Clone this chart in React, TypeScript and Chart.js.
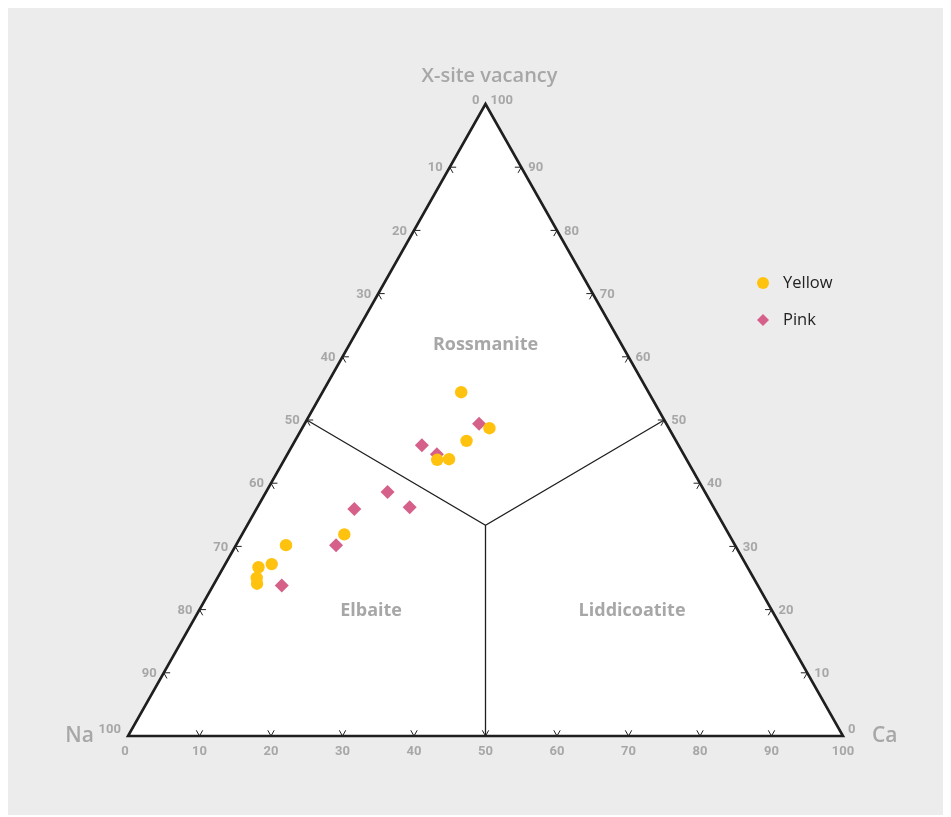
import { useEffect, useRef } from "react";
import { Chart, registerables } from "chart.js";

Chart.register(...registerables);

// ---- Data (ternary compositions, in %) ----
const yellowVacancy = [54.4, 48.7, 46.7, 43.8, 43.7, 31.9, 30.2, 27.2, 26.7, 25.0, 24.1];
const yellowNa = [26.2, 25.1, 29.3, 33.2, 34.9, 53.8, 62.8, 66.3, 68.4, 69.5, 69.9];
const yellowCa = [19.4, 26.2, 24.0, 23.0, 21.4, 14.3, 7.0, 6.5, 4.9, 5.5, 6.0];

const pinkVacancy = [49.4, 46.0, 44.6, 38.6, 35.9, 36.2, 30.2, 23.8];
const pinkNa = [26.2, 35.9, 34.5, 44.4, 50.4, 42.5, 55.8, 66.6];
const pinkCa = [24.4, 18.1, 20.9, 17.0, 13.7, 21.3, 14.0, 9.6];

const seriesNames = ["Yellow", "Pink"];
const tickValues = [0, 10, 20, 30, 40, 50, 60, 70, 80, 90, 100];
const topTitle = "X-site vacancy";
const leftTitle = "Na";
const rightTitle = "Ca";
const regionNames = ["Rossmanite", "Elbaite", "Liddicoatite"];

// convert (vacancy, Ca) to cartesian data coords on a 0..100 square
const toXY = (v: number, ca: number) => ({ x: ca + v / 2, y: v });

const LABEL_GREY = "#a7a7a7";
const LINE = "#1f1f1f";
const TICK_FONT = 'bold 13px Roboto, "DejaVu Sans", sans-serif';

const ternaryPlugin = {
  id: "ternaryFrame",
  beforeDatasetsDraw(chart: any) {
    const { ctx, scales } = chart;
    const xs = scales.x;
    const ys = scales.y;
    const P = (x: number, y: number) => [xs.getPixelForValue(x), ys.getPixelForValue(y)];
    const T = (v: number, ca: number) => {
      const p = toXY(v, ca);
      return P(p.x, p.y);
    };
    ctx.save();
    // triangle
    const A = T(100, 0); // apex (vacancy)
    const L = T(0, 0); // Na corner
    const R = T(0, 100); // Ca corner
    ctx.beginPath();
    ctx.moveTo(A[0], A[1]);
    ctx.lineTo(R[0], R[1]);
    ctx.lineTo(L[0], L[1]);
    ctx.closePath();
    ctx.fillStyle = "#ffffff";
    ctx.fill();

    // region boundaries
    const C = T(100 / 3, 100 / 3);
    const Lm = T(50, 0);
    const Rm = T(50, 50);
    const Bm = T(0, 50);
    ctx.strokeStyle = LINE;
    ctx.lineWidth = 1.3;
    ctx.beginPath();
    ctx.moveTo(Lm[0], Lm[1]);
    ctx.lineTo(C[0], C[1]);
    ctx.lineTo(Rm[0], Rm[1]);
    ctx.moveTo(C[0], C[1]);
    ctx.lineTo(Bm[0], Bm[1]);
    ctx.stroke();

    // ticks
    const d = 0.9;
    ctx.lineWidth = 1;
    ctx.beginPath();
    for (const t of tickValues) {
      if (t === 0 || t === 100) continue;
      let p0 = T(0, t);
      let a = T(d, t);
      let b = T(d, t - d);
      ctx.moveTo(a[0], a[1]); ctx.lineTo(p0[0], p0[1]); ctx.lineTo(b[0], b[1]);
      p0 = T(t, 0);
      a = T(t, d);
      b = T(t - d, d);
      ctx.moveTo(a[0], a[1]); ctx.lineTo(p0[0], p0[1]); ctx.lineTo(b[0], b[1]);
      p0 = T(t, 100 - t);
      a = T(t, 100 - t - d);
      b = T(t - d, 100 - t);
      ctx.moveTo(a[0], a[1]); ctx.lineTo(p0[0], p0[1]); ctx.lineTo(b[0], b[1]);
    }
    ctx.stroke();

    // outline
    ctx.lineWidth = 2.6;
    ctx.lineJoin = "miter";
    ctx.beginPath();
    ctx.moveTo(A[0], A[1]);
    ctx.lineTo(R[0], R[1]);
    ctx.lineTo(L[0], L[1]);
    ctx.closePath();
    ctx.stroke();

    // tick labels
    ctx.fillStyle = LABEL_GREY;
    ctx.font = TICK_FONT;
    for (const t of tickValues) {
      let p = T(0, t);
      ctx.textAlign = "center";
      ctx.textBaseline = "middle";
      ctx.fillText(String(t), p[0] + (t === 0 ? -3 : 0), p[1] + 16);
      p = T(100 - t, 0);
      ctx.textAlign = "right";
      const corner = t === 0 || t === 100;
      ctx.fillText(String(t), p[0] - (t === 0 ? 6 : 7), p[1] + (t === 100 ? -6 : t === 0 ? -3 : 1));
      p = T(t, 100 - t);
      ctx.textAlign = "left";
      ctx.fillText(String(t), p[0] + (corner ? 5 : 7), p[1] + (t === 0 ? -6 : t === 100 ? -3 : 1));
    }

    // axis titles
    ctx.font = '600 20px "Open Sans", sans-serif';
    ctx.fillStyle = LABEL_GREY;
    ctx.textAlign = "center";
    ctx.textBaseline = "middle";
    ctx.fillText(topTitle, A[0] + 4, A[1] - 28);
    ctx.font = '600 21px "Open Sans", sans-serif';
    ctx.textAlign = "right";
    ctx.fillText(leftTitle, L[0] - 34, L[1]);
    ctx.textAlign = "left";
    ctx.fillText(rightTitle, R[0] + 29, R[1]);

    // region labels
    ctx.font = 'bold 18px "Open Sans", sans-serif';
    ctx.textAlign = "center";
    const rPos = [P(50, 61.9), P(34, 19.8), P(70.5, 19.8)];
    regionNames.forEach((n, i) => ctx.fillText(n, rPos[i][0], rPos[i][1]));
    ctx.restore();
  },
  afterDraw(chart: any) {
    const { ctx } = chart;
    ctx.save();
    const x0 = chart.chartArea.left + 635;
    const y0 = chart.chartArea.top + 179;
    chart.data.datasets.forEach((ds: any, i: number) => {
      const ys = y0 + i * 37;
      ctx.fillStyle = ds.backgroundColor;
      ctx.beginPath();
      if (ds.pointStyle === "rectRot") {
        const r = 6;
        ctx.moveTo(x0, ys - r);
        ctx.lineTo(x0 + r, ys);
        ctx.lineTo(x0, ys + r);
        ctx.lineTo(x0 - r, ys);
        ctx.closePath();
      } else {
        ctx.arc(x0, ys, 6, 0, Math.PI * 2);
      }
      ctx.fill();
      ctx.fillStyle = "#222222";
      ctx.font = '16.5px "Open Sans", sans-serif';
      ctx.textAlign = "left";
      ctx.textBaseline = "middle";
      ctx.fillText(ds.label, x0 + 20, ys);
    });
    ctx.restore();
  },
};

export default function App() {
  const ref = useRef<HTMLCanvasElement | null>(null);
  useEffect(() => {
    if (!ref.current) return;
    const yellowPts = yellowVacancy.map((v, i) => toXY(v, yellowCa[i]));
    const pinkPts = pinkVacancy.map((v, i) => toXY(v, pinkCa[i]));
    void yellowNa; void pinkNa;
    const chart = new Chart(ref.current, {
      type: "scatter",
      data: {
        datasets: [
          {
            label: seriesNames[0],
            data: yellowPts,
            backgroundColor: "#ffc20e",
            borderColor: "#ffc20e",
            borderWidth: 0,
            pointStyle: "circle",
            pointRadius: 6.2,
          },
          {
            label: seriesNames[1],
            data: pinkPts,
            backgroundColor: "#d5618a",
            borderColor: "#d5618a",
            borderWidth: 0,
            pointStyle: "rectRot",
            pointRadius: 7,
          },
        ],
      },
      options: {
        responsive: false,
        animation: false,
        layout: { padding: { left: 122, right: 102, top: 96, bottom: 79 } },
        scales: {
          x: { type: "linear", min: 0, max: 100, display: false },
          y: { type: "linear", min: 0, max: 100, display: false },
        },
        plugins: { legend: { display: false }, tooltip: { enabled: false } },
      },
      plugins: [ternaryPlugin],
    });
    return () => chart.destroy();
  }, []);
  return (
    <div style={{ position: "relative", left: -2, width: 939, height: 807, background: "#ececec" }}>
      <canvas ref={ref} width={939} height={807} style={{ display: "block" }} />
    </div>
  );
}
